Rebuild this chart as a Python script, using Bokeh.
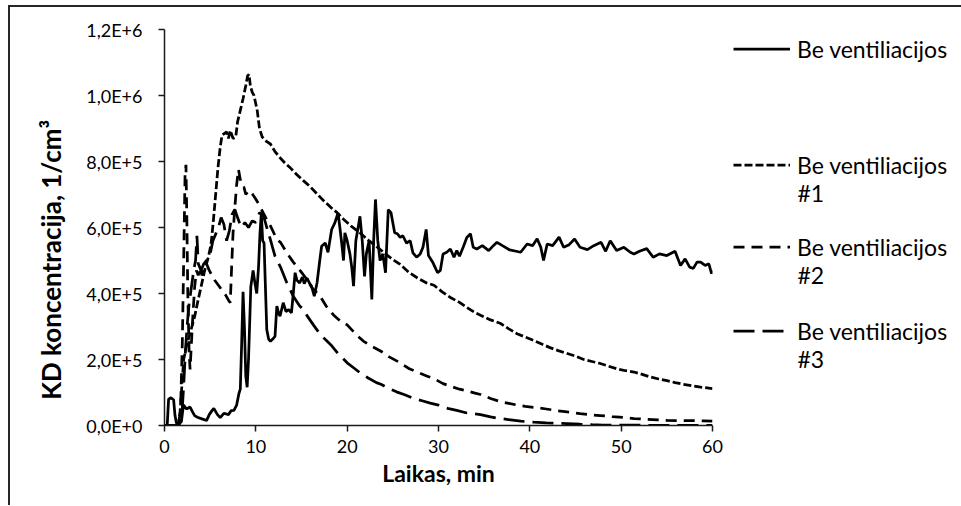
import math
from bokeh.plotting import figure
from bokeh.layouts import row
from bokeh.models import Legend, LegendItem, FixedTicker, Range1d, Label
from bokeh.embed import file_html
from bokeh.resources import INLINE

# ---------------- data ----------------
series_names = ["Be ventiliacijos", "Be ventiliacijos #1", "Be ventiliacijos #2", "Be ventiliacijos #3"]
legend_first_lines = ["Be ventiliacijos", "Be ventiliacijos", "Be ventiliacijos", "Be ventiliacijos"]
legend_second_lines = ["", "#1", "#2", "#3"]

t_solid = [0, 0.3, 0.45, 0.7, 1.0, 1.15, 1.3, 1.6, 1.85, 2.0, 2.1, 2.4, 2.8, 3.1, 3.3, 3.6, 4.1, 4.6, 4.9, 5.2,
           5.4, 5.8, 6.1, 6.5, 7.0, 7.3, 7.6, 7.9, 8.15, 8.3, 8.45, 8.6, 8.75, 8.9, 9.05, 9.2, 9.45, 9.7, 9.9, 10.1,
           10.3, 10.45, 10.6, 10.75, 10.9, 11.05, 11.2, 11.4, 11.6, 11.85, 12.1, 12.3, 12.5, 12.65, 13.0, 13.3, 13.6,
           13.9, 14.1, 14.3, 14.5, 14.8, 15.1, 15.3, 15.6, 15.9, 16.1, 16.4, 16.7, 17.0, 17.2, 17.6, 17.9, 18.3, 18.65,
           19.0, 19.2, 19.4, 19.6, 19.75, 20.0, 20.3, 20.5, 20.7, 20.95, 21.2, 21.4, 21.65, 21.9, 22.1, 22.4, 22.7,
           22.9, 23.1, 23.35, 23.6, 23.9, 24.2, 24.5, 24.8, 25.2, 25.5, 25.8, 26.1, 26.5, 26.9, 27.2, 27.6, 28.0,
           28.3, 28.65, 28.9, 29.4, 29.9, 30.2, 30.5, 30.9, 31.3, 31.7, 32.0, 32.3, 32.7, 33.1, 33.5, 33.8, 34.2,
           34.8, 35.5, 36.0, 36.4, 37.0, 37.8, 38.5, 39.0, 39.7, 40.3, 40.8, 41.2, 41.5, 41.9, 42.5, 43.2, 43.7,
           44.3, 44.9, 45.5, 46.3, 47.0, 47.8, 48.3, 48.8, 49.5, 50.3, 51.0, 51.4, 52.0, 52.8, 53.5, 54.2, 55.0,
           55.9, 56.5, 57.0, 57.5, 57.9, 58.3, 58.7, 59.2, 59.6, 59.9, 60.0]
c_solid = [0, 2000, 80000, 84000, 78000, 30000, 8000, 5000, 12000, 45000, 62000, 50000, 56000, 40000, 30000, 25000,
           20000, 15000, 33000, 45000, 52000, 33000, 24000, 37000, 33000, 45000, 46000, 62000, 97000, 110000, 250000,
           405000, 300000, 150000, 116000, 200000, 420000, 470000, 432000, 400000, 483000, 580000, 644000, 560000,
           553000, 420000, 290000, 262000, 255000, 262000, 270000, 362000, 340000, 331000, 372000, 345000, 351000,
           341000, 400000, 463000, 440000, 432000, 450000, 430000, 447000, 430000, 422000, 392000, 432000, 500000,
           543000, 553000, 525000, 594000, 614000, 644000, 600000, 553000, 500000, 584000, 560000, 520000, 480000,
           422000, 560000, 600000, 634000, 560000, 452000, 520000, 560000, 382000, 560000, 685000, 560000, 500000,
           520000, 463000, 654000, 645000, 584000, 581000, 570000, 575000, 553000, 560000, 523000, 510000, 520000,
           540000, 594000, 515000, 493000, 463000, 470000, 520000, 525000, 535000, 510000, 530000, 513000, 540000,
           570000, 581000, 540000, 535000, 545000, 530000, 545000, 555000, 545000, 532000, 528000, 525000, 550000,
           545000, 566000, 540000, 500000, 550000, 545000, 571000, 540000, 548000, 565000, 540000, 533000, 545000,
           555000, 528000, 560000, 530000, 540000, 525000, 520000, 528000, 536000, 510000, 520000, 515000, 528000,
           485000, 505000, 480000, 476000, 495000, 495000, 485000, 490000, 460000, 470000]

t_1 = [0, 1.0, 1.5, 1.7, 1.9, 2.1, 2.4, 2.7, 3.0, 3.3, 3.6, 4.0, 4.4, 4.8, 5.1, 5.35, 5.6, 5.85, 6.1, 6.3, 6.5, 6.8,
       7.0, 7.2, 7.5, 7.8, 8.0, 8.3, 8.6, 8.9, 9.1, 9.25, 9.4, 9.6, 9.8, 10.15, 10.4, 10.7, 11.2, 11.6, 12.1, 12.7,
       13.2, 13.8, 14.5, 15.2, 15.9, 16.7, 17.4, 18.2, 18.9, 19.6, 20.4, 21.4, 22.3, 23.2, 24.1, 25.0, 25.8, 26.8,
       27.7, 28.7, 29.5, 30.4, 31.3, 32.3, 33.1, 34.0, 34.6, 35.7, 36.8, 37.7, 38.6, 39.5, 40.4, 41.3, 42.2, 43.2,
       44.1, 45.0, 45.9, 46.8, 47.7, 48.6, 49.5, 50.5, 51.4, 52.3, 53.2, 54.1, 55.0, 55.9, 56.8, 57.7, 58.7, 59.4,
       60.0]
c_1 = [0, 0, 3000, 40000, 120000, 200000, 240000, 270000, 300000, 330000, 370000, 420000, 470000, 510000, 550000,
       620000, 700000, 780000, 843000, 880000, 884000, 890000, 870000, 894000, 870000, 874000, 920000, 955000,
       990000, 1030000, 1060000, 1064000, 1030000, 1010000, 1000000, 955000, 900000, 874000, 860000, 853000,
       830000, 810000, 795000, 780000, 760000, 742000, 725000, 702000, 682000, 661000, 645000, 625000, 605000,
       584000, 562000, 543000, 522000, 503000, 488000, 463000, 447000, 432000, 425000, 405000, 388000, 373000,
       358000, 342000, 334000, 320000, 309000, 293000, 278000, 268000, 258000, 247000, 236000, 226000, 218000,
       210000, 200000, 194000, 188000, 180000, 172000, 166000, 162000, 155000, 147000, 141000, 136000, 130000,
       125000, 121000, 116000, 114000, 112000]

t_2 = [0, 1.0, 1.5, 1.75, 1.95, 2.1, 2.25, 2.35, 2.45, 2.55, 2.7, 2.8, 2.95, 3.1, 3.3, 3.5, 3.7, 3.9, 4.1, 4.3, 4.6,
       4.9, 5.2, 5.5, 5.9, 6.3, 6.7, 7.0, 7.2, 7.35, 7.5, 7.7, 7.9, 8.1, 8.3, 8.5, 8.7, 8.9, 9.2, 9.6, 9.9, 10.3,
       10.8, 11.2, 11.6, 12.3, 12.7, 13.4, 14.1, 14.9, 15.6, 16.2, 16.7, 17.1, 17.7, 18.5, 19.2, 20.0, 21.0, 21.8,
       22.7, 23.7, 24.6, 25.8, 26.8, 27.7, 28.7, 29.5, 30.5, 31.3, 32.3, 33.1, 34.0, 34.6, 35.7, 36.8, 37.7, 38.6,
       39.5, 40.4, 41.8, 43.0, 44.1, 45.5, 46.8, 47.7, 49.0, 50.4, 51.4, 52.8, 54.0, 55.0, 56.5, 58.0, 59.0, 60.0]
c_2 = [0, 0, 4000, 40000, 250000, 500000, 760000, 790000, 620000, 400000, 220000, 170000, 250000, 330000, 420000,
       470000, 455000, 480000, 455000, 470000, 490000, 470000, 455000, 440000, 425000, 410000, 395000, 380000,
       372000, 480000, 580000, 660000, 730000, 776000, 745000, 725000, 722000, 700000, 712000, 702000, 690000,
       672000, 645000, 624000, 605000, 564000, 555000, 523000, 495000, 468000, 442000, 415000, 402000, 389000,
       362000, 335000, 318000, 305000, 275000, 255000, 240000, 225000, 208000, 190000, 172000, 162000, 150000,
       142000, 127000, 119000, 110000, 105000, 98000, 94000, 82000, 72000, 67000, 62000, 58000, 55000, 50000,
       45000, 41000, 36000, 32000, 30000, 27000, 24000, 21000, 19000, 17000, 15500, 15000, 14500, 14000, 13500]

t_3 = [0, 1.6, 1.9, 2.1, 2.3, 2.5, 2.7, 3.0, 3.2, 3.4, 3.55, 3.7, 4.0, 4.3, 4.6, 5.0, 5.3, 5.6, 5.9, 6.2, 6.5, 6.8,
       7.1, 7.4, 7.7, 8.0, 8.4, 8.8, 9.2, 9.6, 10.0, 10.4, 10.8, 11.2, 11.7, 12.1, 12.7, 13.4, 14.1, 14.8, 15.2,
       15.6, 16.3, 17.0, 17.7, 18.2, 19.0, 20.0, 20.7, 21.4, 22.3, 23.2, 23.7, 24.5, 25.4, 26.3, 27.3, 28.2, 29.1,
       30.0, 31.0, 32.0, 33.1, 34.0, 34.6, 35.7, 36.8, 37.9, 39.0, 40.4, 41.8, 43.0, 44.1, 45.5, 46.8, 48.0, 50.0,
       52.0, 54.0, 56.0, 58.0, 60.0]
c_3 = [0, 0, 30000, 120000, 230000, 310000, 370000, 430000, 470000, 500000, 575000, 490000, 470000, 490000, 500000,
       520000, 560000, 580000, 600000, 630000, 610000, 560000, 590000, 640000, 655000, 630000, 600000, 615000,
       600000, 620000, 615000, 645000, 640000, 600000, 553000, 513000, 480000, 432000, 392000, 362000, 352000,
       333000, 305000, 278000, 258000, 245000, 218000, 190000, 175000, 160000, 144000, 130000, 125000, 113000,
       102000, 93000, 82000, 75000, 68000, 62000, 52000, 46000, 38000, 35000, 33000, 26000, 21000, 17000, 13000,
       10000, 8000, 7000, 6000, 4000, 2500, 1500, 1000, 800, 500, 300, 200, 100]

x_ticks = [0, 10, 20, 30, 40, 50, 60]
y_ticks = [0, 200000, 400000, 600000, 800000, 1000000, 1200000]
y_tick_labels = ["0,0E+0", "2,0E+5", "4,0E+5", "6,0E+5", "8,0E+5", "1,0E+6", "1,2E+6"]

x_title = "Laikas, min"
y_title = "KD  koncentracija,  1/cm\u00b3"

# ---------------- layout / styling ----------------
FONT = "Lato"
H = 498                     # canvas height
MB_TOP, MB_BOTTOM = 22, 80  # same borders everywhere -> frames 396 px tall
FRAME_H = H - MB_TOP - MB_BOTTOM
LEFT_W = 60
MAIN_W = 662
LEG_W = 229
LW = 2.75
dashes = [None, "8 3", "11 7", "21 8"]


def bare(width):
    f = figure(width=width, height=H, output_backend="svg", toolbar_location=None,
               x_range=Range1d(0, width), y_range=Range1d(0, FRAME_H),
               x_axis_location=None, y_axis_location=None,
               min_border_left=0, min_border_right=0, min_border_top=MB_TOP, min_border_bottom=MB_BOTTOM)
    f.outline_line_color = None
    f.grid.visible = False
    return f


# y title column (frame pixels, y measured up from the frame bottom)
tfig = bare(LEFT_W)
tfig.add_layout(Label(x=40, y=FRAME_H - 224, text=y_title, angle=math.pi / 2, text_align="center",
                      text_baseline="middle", text_font=FONT, text_font_size="26px",
                      text_font_style="bold", text_color="black"))

# main plot
p = figure(width=MAIN_W, height=H, output_backend="svg", toolbar_location=None,
           x_range=Range1d(0, 60), y_range=Range1d(0, 1200000),
           min_border_left=94, min_border_right=20, min_border_top=MB_TOP, min_border_bottom=MB_BOTTOM)
p.outline_line_color = None
p.xgrid.visible = False
p.ygrid.visible = False

for ax in (p.xaxis[0], p.yaxis[0]):
    ax.axis_line_color = "#1a1a1a"
    ax.axis_line_width = 1.5
    ax.major_tick_line_color = "#1a1a1a"
    ax.major_tick_line_width = 1.5
    ax.major_tick_out = 6
    ax.major_tick_in = 0
    ax.minor_tick_line_color = None
    ax.major_label_text_font = FONT
    ax.major_label_text_font_size = "18px"
    ax.major_label_text_color = "black"
    ax.axis_label_text_font = FONT
    ax.axis_label_text_font_size = "23px"
    ax.axis_label_text_font_style = "bold"
    ax.axis_label_text_color = "black"

p.xaxis.ticker = FixedTicker(ticks=x_ticks)
p.yaxis.ticker = FixedTicker(ticks=y_ticks)
p.yaxis.major_label_overrides = {t: s for t, s in zip(y_ticks, y_tick_labels)}
p.xaxis.axis_label = x_title
p.xaxis.major_label_standoff = 8
p.xaxis.axis_label_standoff = 3
p.yaxis.major_label_standoff = 16

series = [(t_solid, c_solid), (t_1, c_1), (t_2, c_2), (t_3, c_3)]
for (t, c), d, name in zip(series, dashes, series_names):
    kw = dict(line_color="black", line_width=LW, name=name)
    if d:
        kw["line_dash"] = d
    p.line(t, c, **kw)

# legend column (frame pixels, y measured up from the frame bottom)
lfig = bare(LEG_W)
legend_vy = [362.5, 246.5, 164.5, 80.5]
second_y = [None, 233, 151, 67]
for d, first, second, vy, sy in zip(dashes, legend_first_lines, legend_second_lines, legend_vy, second_y):
    kw = dict(line_color="black", line_width=LW)
    if d:
        kw["line_dash"] = d
    proxy = lfig.line(x=[float("nan")], y=[float("nan")], **kw)
    lg = Legend(items=[LegendItem(label=first, renderers=[proxy])], location=(1, vy),
                padding=0, margin=0, spacing=0, border_line_color=None, background_fill_alpha=0,
                glyph_width=57, glyph_height=27, label_height=27, label_standoff=7,
                label_text_font=FONT, label_text_font_size="23px", label_text_color="black")
    lfig.add_layout(lg)
    if second:
        lfig.add_layout(Label(x=65, y=sy, text=second, text_baseline="middle", text_align="left",
                              text_font=FONT, text_font_size="23px", text_color="black"))

layout = row(tfig, p, lfig)
layout.styles = {"border-top": "2px solid #262626", "border-left": "2px solid #262626",
                 "margin-top": "5px", "margin-left": "8px"}

open("out.html", "w").write(file_html(layout, INLINE))
